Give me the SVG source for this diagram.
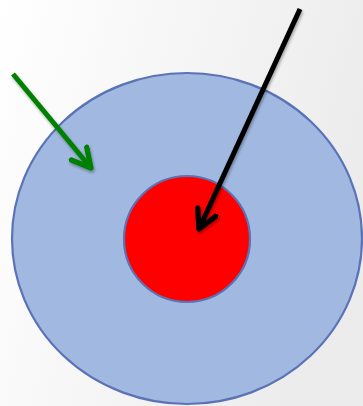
<svg xmlns="http://www.w3.org/2000/svg" width="363" height="406" viewBox="0 0 363 406">
<defs>
<linearGradient id="bg" x1="0" y1="0" x2="1" y2="0.3">
<stop offset="0" stop-color="#ffffff"/>
<stop offset="1" stop-color="#ececec"/>
</linearGradient>
<filter id="sh" x="-20%" y="-20%" width="140%" height="140%">
<feGaussianBlur in="SourceAlpha" stdDeviation="1.5"/>
<feOffset dx="1" dy="2" result="b"/>
<feComponentTransfer><feFuncA type="linear" slope="0.35"/></feComponentTransfer>
<feMerge><feMergeNode/><feMergeNode in="SourceGraphic"/></feMerge>
</filter>
<marker id="chevG" viewBox="0 0 10 10" refX="8.5" refY="5" markerWidth="5" markerHeight="5" orient="auto" markerUnits="strokeWidth">
<polyline points="1,1 8.5,5 1,9" fill="none" stroke="#008000" stroke-width="2.1" stroke-linecap="round" stroke-linejoin="round"/>
</marker>
<marker id="chevK" viewBox="0 0 10 10" refX="8.5" refY="5" markerWidth="5" markerHeight="5" orient="auto" markerUnits="strokeWidth">
<polyline points="1,1 8.5,5 1,9" fill="none" stroke="#000000" stroke-width="2.1" stroke-linecap="round" stroke-linejoin="round"/>
</marker>
<style>
.ring{stroke:#5b72b6;stroke-width:2.2}
.arr{fill:none;stroke-width:5}
</style>
</defs>
<rect width="363" height="406" fill="url(#bg)"/>
<g id="outer"><ellipse cx="187" cy="238.5" rx="175" ry="165.5" fill="#a1b9e1" class="ring"/></g>
<g id="inner"><circle cx="187" cy="239" r="63" fill="#ff0000" class="ring"/></g>
<g id="connectors" filter="url(#sh)">
<line x1="13" y1="74" x2="91" y2="168" class="arr" stroke="#008000" marker-end="url(#chevG)"/>
<line x1="300" y1="9" x2="199" y2="229" class="arr" stroke="#000000" marker-end="url(#chevK)"/>
</g>
</svg>
